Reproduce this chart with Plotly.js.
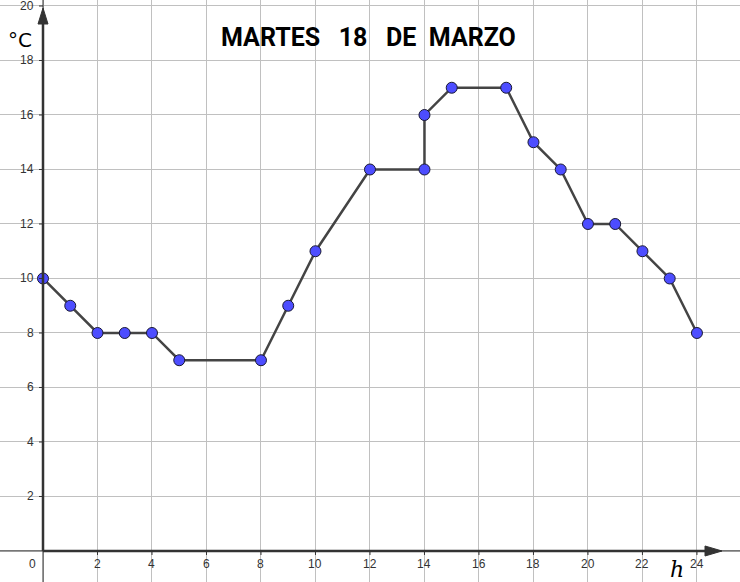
<!DOCTYPE html>
<html><head><meta charset="utf-8">
<script src="https://cdn.plot.ly/plotly-3.0.1.min.js"></script>
<style>html,body{margin:0;padding:0;background:#fff}#c{width:740px;height:582px}</style>
</head><body><div id="c"></div>
<script>
const hours = [0,1,2,3,4,5,8,9,10,12,14,14,15,17,18,19,20,21,22,23,24];
const temps = [10,9,8,8,8,7,7,9,11,14,14,16,17,17,15,14,12,12,11,10,8];
const xTicks = [2,4,6,8,10,12,14,16,18,20,22,24];
const yTicks = [2,4,6,8,10,12,14,16,18,20];
const titleText = 'MARTES&nbsp;&nbsp;&nbsp;18&nbsp;&nbsp;&nbsp;DE&nbsp;&nbsp;MARZO';
const xLabel = 'h';
const yLabel = '°C';

const X0 = -1.578, X1 = 25.58, Y0 = -1.138, Y1 = 20.22;
const ux = (X1-X0)/740, uy = (Y1-Y0)/582;
const px = p => X0 + p*ux;
const py = p => Y1 - p*uy;

const tf = {family:'Liberation Sans, Arial', size:12, color:'#333'};
const ann = [];
xTicks.forEach(v => ann.push({x:v, y:-0.15, xref:'x', yref:'y', text:String(v), showarrow:false, yanchor:'top', font:tf}));
yTicks.forEach(v => ann.push({x:-0.25, y:v, xref:'x', yref:'y', text:String(v), showarrow:false, xanchor:'right', font:tf}));
ann.push({x:-0.2, y:-0.15, xref:'x', yref:'y', text:'0', showarrow:false, xanchor:'right', yanchor:'top', font:tf});
ann.push({x:px(368.5), y:py(37), xref:'x', yref:'y', text:'<b>'+titleText+'</b>', showarrow:false, font:{family:'Roboto', size:25, color:'#000'}});
ann.push({x:px(20), y:py(40), xref:'x', yref:'y', text:yLabel, showarrow:false, font:{family:'DejaVu Sans', size:20, color:'#000'}});
ann.push({x:px(677), y:py(569), xref:'x', yref:'y', text:'<i>'+xLabel+'</i>', showarrow:false, font:{family:'DejaVu Serif', size:22, color:'#000'}});

const axCol = '#333';
const shapes = [
  {type:'line', x0:X0, x1:X1, y0:0, y1:0, line:{color:axCol, width:1}},
  {type:'line', x0:0, x1:0, y0:Y0, y1:Y1, line:{color:axCol, width:1}},
  {type:'line', x0:0, x1:px(710), y0:0, y1:0, line:{color:axCol, width:2.5}},
  {type:'line', x0:0, x1:0, y0:0, y1:py(20), line:{color:axCol, width:2.5}},
  {type:'path', path:`M ${px(722)} 0 L ${px(705)} ${5*uy} L ${px(705)} ${-5*uy} Z`, fillcolor:axCol, line:{color:axCol, width:1}},
  {type:'path', path:`M 0 ${py(8)} L ${-5*ux} ${py(24)} L ${5*ux} ${py(24)} Z`, fillcolor:axCol, line:{color:axCol, width:1}}
];
yTicks.forEach(v => shapes.push({type:'line', x0:-4*ux, x1:0, y0:v, y1:v, line:{color:axCol, width:1}}));
xTicks.forEach(v => shapes.push({type:'line', x0:v, x1:v, y0:0, y1:-4*uy, line:{color:axCol, width:1}}));

const trace = {x:hours, y:temps, mode:'lines+markers', type:'scatter',
  line:{color:'#444', width:2.5},
  marker:{size:11, color:'#4d4dff', line:{color:'#1a1a33', width:1}}, cliponaxis:false};

const layout = {width:740, height:582, margin:{l:0,r:0,t:0,b:0}, paper_bgcolor:'#fff', plot_bgcolor:'#fff',
  showlegend:false,
  xaxis:{range:[X0,X1], tickvals:[0].concat(xTicks), showticklabels:false, ticks:'', showgrid:true, gridcolor:'#c0c0c0', gridwidth:1, zeroline:false, showline:false, fixedrange:true},
  yaxis:{range:[Y0,Y1], tickvals:[0].concat(yTicks), showticklabels:false, ticks:'', showgrid:true, gridcolor:'#c0c0c0', gridwidth:1, zeroline:false, showline:false, fixedrange:true},
  annotations:ann, shapes:shapes};
Plotly.newPlot('c',[trace],layout,{staticPlot:true});
</script></body></html>
